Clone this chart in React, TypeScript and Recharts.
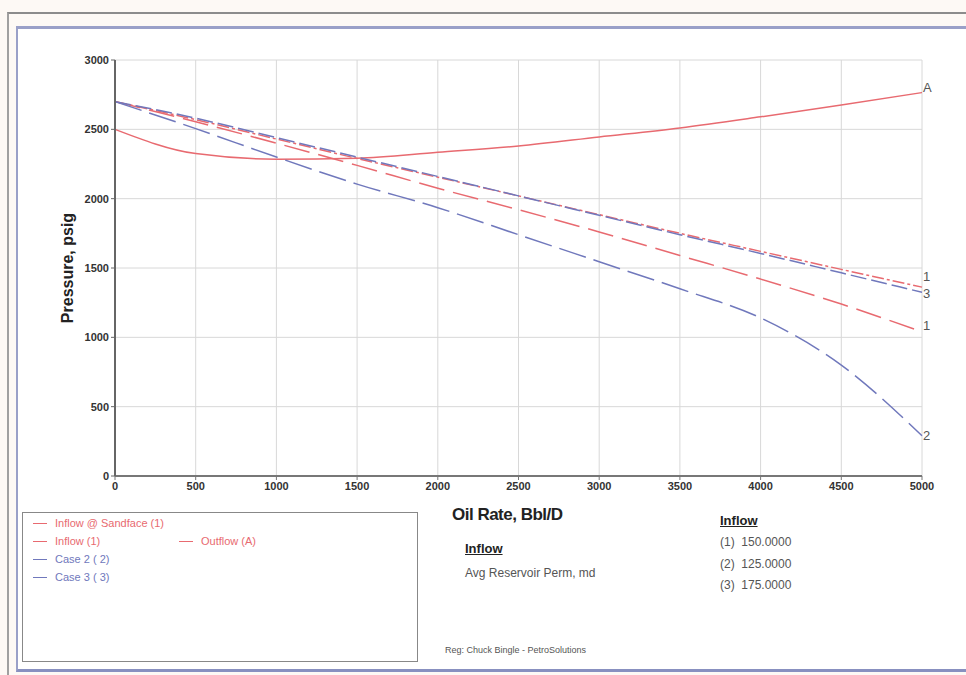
import { CartesianGrid, LabelList, Line, LineChart, XAxis, YAxis } from "recharts";

const rates = [0, 500, 1000, 1500, 2000, 2500, 3000, 3500, 4000, 4500, 5000];
const sandface = [2700, 2570, 2430, 2290, 2155, 2020, 1885, 1750, 1620, 1490, 1362];
const inflow1 = [2700, 2555, 2400, 2240, 2075, 1920, 1760, 1590, 1420, 1240, 1040];
const outflowA = [2500, 2325, 2285, 2292, 2335, 2380, 2445, 2510, 2590, 2675, 2765];
const case2 = [2700, 2505, 2300, 2105, 1935, 1740, 1545, 1350, 1140, 800, 290];
const case3 = [2700, 2580, 2440, 2300, 2160, 2020, 1880, 1740, 1605, 1465, 1325];

const xTicks = [0, 500, 1000, 1500, 2000, 2500, 3000, 3500, 4000, 4500, 5000];
const yTicks = [0, 500, 1000, 1500, 2000, 2500, 3000];
const permCases = ["(1)  150.0000", "(2)  125.0000", "(3)  175.0000"];

const data = rates.map((q, i) => ({
  q,
  sandface: sandface[i],
  inflow1: inflow1[i],
  outflowA: outflowA[i],
  case2: case2[i],
  case3: case3[i],
}));

const RED = "#e86a70";
const BLUE = "#7078bc";
const FONT = "'Liberation Sans', Arial, sans-serif";

const endLabel = (text: string, dy: number) => (props: any) => {
  if (props.index !== rates.length - 1) return null;
  return (
    <text x={props.x + 1} y={props.y + dy} fontSize={13} fill="#555" fontFamily={FONT}>
      {text}
    </text>
  );
};

const legendItems = [
  { label: "Inflow @ Sandface (1)", color: RED, x: 0, y: 0 },
  { label: "Inflow (1)", color: RED, x: 0, y: 18 },
  { label: "Outflow (A)", color: RED, x: 146, y: 18 },
  { label: "Case  2 ( 2)", color: BLUE, x: 0, y: 36 },
  { label: "Case  3 ( 3)", color: BLUE, x: 0, y: 54 },
];

function LegendBox() {
  return (
    <div style={{ position: "absolute", left: 22, top: 512, width: 394, height: 148, border: "1px solid #888", background: "#fff" }}>
      {legendItems.map((it) => (
        <div key={it.label} style={{ position: "absolute", left: 10 + it.x, top: 4 + it.y, display: "flex", alignItems: "center", fontSize: 11, color: it.color }}>
          <span style={{ display: "inline-block", width: 14, height: 0, borderTop: `1px solid ${it.color}`, marginRight: 8 }} />
          {it.label}
        </div>
      ))}
    </div>
  );
}

export default function App() {
  return (
    <div style={{ position: "absolute", left: 0, top: 0, width: 966, height: 675, background: "#fdf9f5", fontFamily: FONT, overflow: "hidden" }}>
      <div style={{ position: "absolute", left: 7, top: 12, width: 970, height: 670, borderTop: "2px solid #8c8c8c", borderLeft: "2px solid #a0a0a0" }} />
      <div style={{ position: "absolute", left: 16, top: 26, width: 960, height: 640, borderTop: "3px solid #9aa0c8", borderLeft: "2px solid #9aa0c8", borderBottom: "3px solid #8890c0", background: "#fff" }} />
      <div style={{ position: "absolute", left: 0, top: 0 }}>
        <LineChart width={966} height={675} data={data} margin={{ top: 60, right: 44, bottom: 169, left: 65 }}>
          <CartesianGrid stroke="#d8d8d8" verticalValues={xTicks} horizontalValues={yTicks} />
          <XAxis
            dataKey="q"
            type="number"
            domain={[0, 5000]}
            ticks={xTicks}
            height={30}
            tick={{ fontSize: 11, fontWeight: 700, fill: "#333", fontFamily: FONT }}
            axisLine={{ stroke: "#777", strokeWidth: 2 }}
            tickLine={{ stroke: "#777" }}
            tickSize={4}
          />
          <YAxis
            type="number"
            domain={[0, 3000]}
            ticks={yTicks}
            width={50}
            tick={{ fontSize: 11, fontWeight: 700, fill: "#333", fontFamily: FONT }}
            axisLine={{ stroke: "#666", strokeWidth: 2 }}
            tickLine={{ stroke: "#666" }}
            tickSize={4}
            label={{ value: "Pressure, psig", angle: -90, position: "insideLeft", offset: 0, dx: 2, style: { fontSize: 16, fontWeight: 700, fill: "#222", fontFamily: FONT, textAnchor: "middle" } }}
          />
          <Line type="monotone" dataKey="sandface" name="Inflow @ Sandface (1)" stroke={RED} strokeWidth={1.5} strokeDasharray="12 3 3 3" dot={false} isAnimationActive={false}>
            <LabelList content={endLabel("1", -6)} />
          </Line>
          <Line type="monotone" dataKey="inflow1" name="Inflow (1)" stroke={RED} strokeWidth={1.5} strokeDasharray="26 9" dot={false} isAnimationActive={false}>
            <LabelList content={endLabel("1", -2)} />
          </Line>
          <Line type="monotone" dataKey="outflowA" name="Outflow (A)" stroke={RED} strokeWidth={1.5} dot={false} isAnimationActive={false}>
            <LabelList content={endLabel("A", -1)} />
          </Line>
          <Line type="monotone" dataKey="case2" name="Case 2 (2)" stroke={BLUE} strokeWidth={1.5} strokeDasharray="28 8" dot={false} isAnimationActive={false}>
            <LabelList content={endLabel("2", 4)} />
          </Line>
          <Line type="monotone" dataKey="case3" name="Case 3 (3)" stroke={BLUE} strokeWidth={1.5} strokeDasharray="16 5" dot={false} isAnimationActive={false}>
            <LabelList content={endLabel("3", 6)} />
          </Line>
        </LineChart>
      </div>
      <LegendBox />
      <div style={{ position: "absolute", left: 452, top: 505, fontSize: 17, fontWeight: 700, color: "#222", letterSpacing: -0.5 }}>Oil Rate, Bbl/D</div>
      <div style={{ position: "absolute", left: 465, top: 541, fontSize: 13, fontWeight: 700, color: "#222", textDecoration: "underline" }}>Inflow</div>
      <div style={{ position: "absolute", left: 465, top: 566, fontSize: 12, color: "#555" }}>Avg Reservoir Perm,  md</div>
      <div style={{ position: "absolute", left: 720, top: 513, fontSize: 13, fontWeight: 700, color: "#222", textDecoration: "underline" }}>Inflow</div>
      {permCases.map((t, i) => (
        <div key={t} style={{ position: "absolute", left: 720, top: 535 + i * 21.5, fontSize: 12, color: "#555", whiteSpace: "pre" }}>{t}</div>
      ))}
      <div style={{ position: "absolute", left: 445, top: 645, fontSize: 9, color: "#555" }}>Reg:  Chuck Bingle - PetroSolutions</div>
    </div>
  );
}
